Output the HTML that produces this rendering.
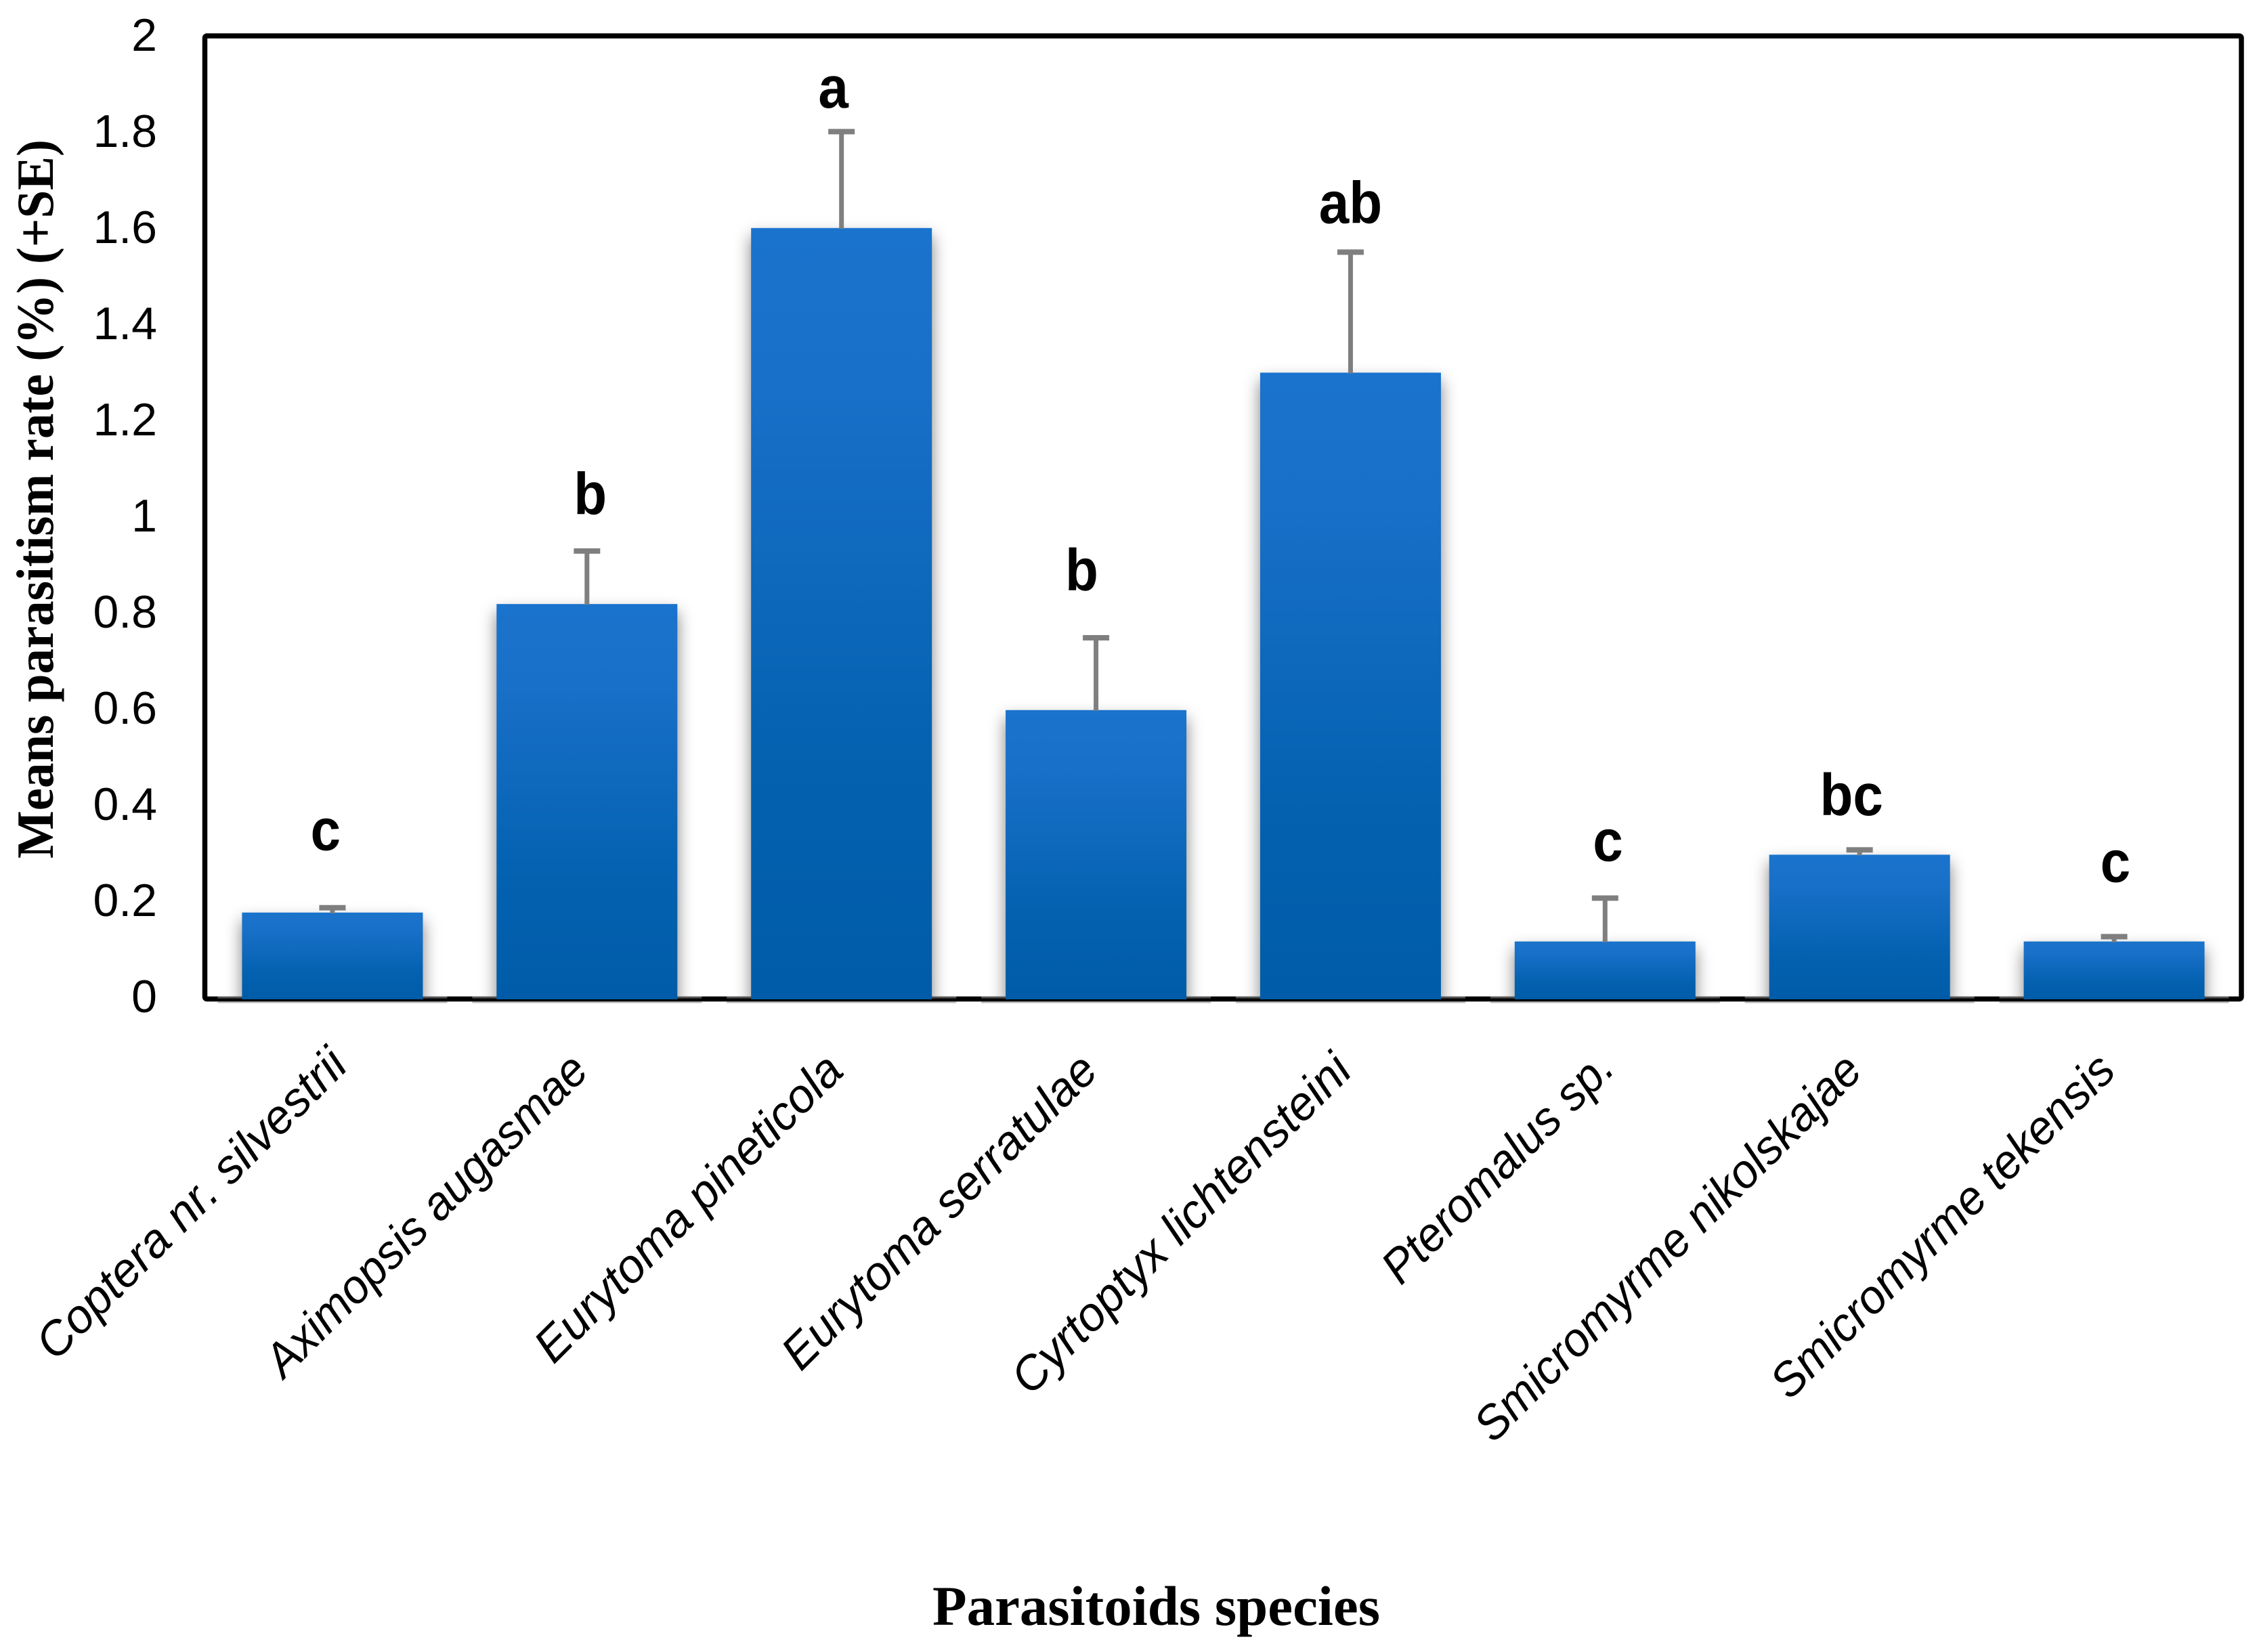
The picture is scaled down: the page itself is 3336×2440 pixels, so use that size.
<!DOCTYPE html>
<html lang="en">
<head>
<meta charset="utf-8">
<title>Mean parasitism rate by parasitoid species</title>
<style>
  html, body { margin: 0; padding: 0; background: #fff; }
  #chart { display: block; }
  .tick { font-family: "Liberation Sans", sans-serif; font-size: 68px; fill: #000; text-anchor: end; }
  .cat { font-family: "Liberation Sans", sans-serif; font-style: italic; font-size: 70px; fill: #000; text-anchor: end; }
  .letter { font-family: "Liberation Sans", sans-serif; font-weight: bold; font-size: 87px; fill: #000; text-anchor: middle; }
  .title { font-family: "Liberation Serif", serif; font-weight: bold; fill: #000; }
</style>
</head>
<body>
<svg id="chart" xmlns="http://www.w3.org/2000/svg" width="3336" height="2440" viewBox="0 0 3336 2440">
  <defs>
    <linearGradient id="barFill" x1="0" y1="0" x2="0" y2="1">
      <stop offset="0" stop-color="#1a73cc"/>
      <stop offset="0.2" stop-color="#1970c8"/>
      <stop offset="0.7" stop-color="#0361b0"/>
      <stop offset="1" stop-color="#005ca8"/>
    </linearGradient>
    <linearGradient id="shadeOverAxis" x1="0" y1="0" x2="0" y2="1">
      <stop offset="0" stop-color="#777"/>
      <stop offset="1" stop-color="#000"/>
    </linearGradient>
    <linearGradient id="shadeUnderAxis" x1="0" y1="0" x2="0" y2="1">
      <stop offset="0" stop-color="#888"/>
      <stop offset="1" stop-color="#e8e8e8"/>
    </linearGradient>
    <filter id="softShadow" filterUnits="userSpaceOnUse" x="0" y="0" width="3336" height="2440">
      <feGaussianBlur stdDeviation="12"/>
    </filter>
    <clipPath id="aboveAxis"><rect x="0" y="0" width="3336" height="1472"/></clipPath>
  </defs>
  <rect x="0" y="0" width="3336" height="2440" fill="#fff"/>
  <rect x="302.5" y="53" width="3007.5" height="1422.5" rx="3" fill="none" stroke="#000" stroke-width="7.5"/>
  <g id="shadows" clip-path="url(#aboveAxis)"></g>
  <g id="axisShades"></g>
  <g id="bars"></g>
  <g id="errors"></g>
  <g id="yTicks"></g>
  <g id="catLabels"></g>
  <g id="letters"></g>
  <text class="title" x="78" y="1268" font-size="77" textLength="1062" lengthAdjust="spacingAndGlyphs" transform="rotate(-90 78 1268)">Means parasitism rate (%) (+SE)</text>
  <text class="title" x="1377" y="2400" font-size="83" textLength="661" lengthAdjust="spacingAndGlyphs">Parasitoids species</text>
</svg>
<script>
const categories = ["Coptera nr. silvestrii", "Aximopsis augasmae", "Eurytoma pineticola", "Eurytoma serratulae", "Cyrtoptyx lichtensteini", "Pteromalus sp.", "Smicromyrme nikolskajae", "Smicromyrme tekensis"];
const means = [0.18, 0.82, 1.6, 0.6, 1.3, 0.12, 0.3, 0.12];
const standardErrors = [0.01, 0.11, 0.2, 0.15, 0.25, 0.09, 0.01, 0.01];
const groupLetters = ["c", "b", "a", "b", "ab", "c", "bc", "c"];
const letterHeights = [0.31, 1.006, 1.85, 0.848, 1.61, 0.287, 0.382, 0.244];
const letterShifts = [-0.027, 0.013, -0.032, -0.056, 0, 0.011, -0.032, 0.005];
const labelShifts = [0.068, 0.014, 0.016, 0.016, 0.014, 0.046, 0.019, 0.014];
const labelRaises = [8, 0, 0, 0, 0, 4, 0, 0];
const labelLengthsEm = [8.786, 9.143, 8.714, 8.929, 9.657, 6.443, 11.071, 9.786];
const yTickValues = [0, 0.2, 0.4, 0.6, 0.8, 1, 1.2, 1.4, 1.6, 1.8, 2];
const yTickLabels = ["0", "0.2", "0.4", "0.6", "0.8", "1", "1.2", "1.4", "1.6", "1.8", "2"];

const NS = "http://www.w3.org/2000/svg";
const plotLeft = 303, plotRight = 3310, baseY = 1476, unitHeight = 712;
const step = (plotRight - plotLeft) / categories.length;
const barWidth = 267;

function xScale(i) { return plotLeft + step * (i + 0.5); }
function yScale(v) { return baseY - v * unitHeight; }
function tickBaseline(v) { return 75 + (2 - v) * 710; }

function make(parentId, tag, attrs, text) {
  const el = document.createElementNS(NS, tag);
  for (const k in attrs) el.setAttribute(k, attrs[k]);
  if (text !== undefined) el.textContent = text;
  document.getElementById(parentId).appendChild(el);
  return el;
}

yTickValues.forEach(function (v, i) {
  const t = make("yTicks", "text", { class: "tick", x: 232, y: tickBaseline(v) }, yTickLabels[i]);
  
  
});

categories.forEach(function (name, i) {
  const cx = xScale(i);
  const top = yScale(means[i]);
  const left = cx - barWidth / 2;

  const shadow = make("shadows", "rect", { x: left, y: top + 12, width: barWidth, height: baseY - top, fill: "#000", "fill-opacity": 0.5, filter: "url(#softShadow)" });
  
  

  const over = make("axisShades", "rect", { x: left - 36, y: 1472, width: barWidth + 72, height: 4, fill: "url(#shadeOverAxis)" });
  
  

  const under = make("axisShades", "rect", { x: left - 36, y: 1479, width: barWidth + 72, height: 3, fill: "url(#shadeUnderAxis)" });
  
  

  const bar = make("bars", "rect", { x: left, y: top, width: barWidth, height: baseY - top, fill: "url(#barFill)" });
  
  

  const capY = yScale(means[i] + standardErrors[i]);
  const stem = make("errors", "rect", { x: cx - 3.5, y: capY, width: 7, height: top - capY + 1, fill: "#7f7f7f" });
  
  

  const cap = make("errors", "rect", { x: cx - 19.5, y: capY - 4, width: 39, height: 8, fill: "#7f7f7f" });
  
  

  const lx = cx + labelShifts[i] * step;
  const ly = 1585 - labelRaises[i];
  const label = make("catLabels", "text", { class: "cat", x: lx, y: ly, textLength: labelLengthsEm[i] * 70, lengthAdjust: "spacingAndGlyphs", transform: "rotate(-45 " + lx + " " + ly + ")" }, name);
  
  

  const letter = make("letters", "text", { class: "letter", x: cx + letterShifts[i] * step, y: yScale(letterHeights[i]) }, groupLetters[i]);
  
  
  letter.setAttribute("textLength", letter.getComputedTextLength() * 0.92);
  letter.setAttribute("lengthAdjust", "spacingAndGlyphs");
});
</script>
</body>
</html>
